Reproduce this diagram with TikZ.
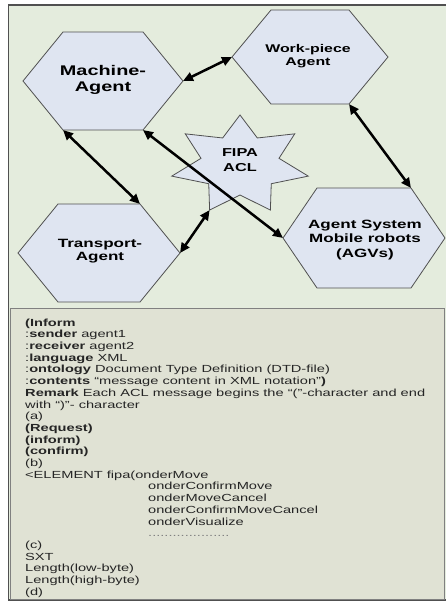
\documentclass[tikz,border=0pt]{standalone}
\usepackage{fontspec}
\setmainfont{Liberation Sans}[FakeStretch=1.42]
\usepackage{xcolor}
\usetikzlibrary{arrows.meta}
\definecolor{bggreen}{HTML}{E4ECDD}
\definecolor{boxgrey}{HTML}{E0E2D4}
\definecolor{hexfill}{HTML}{DFE5F1}
\definecolor{hexline}{HTML}{505050}
\definecolor{textgrey}{HTML}{252525}

% name, x, y, half width, half top, half height
\newcommand{\agenthex}[6]{%
	\draw[hexa] (#2-#4,#3) coordinate (#1-w) -- (#2-#5,#3-#6) coordinate (#1-nw)
		-- (#2+#5,#3-#6) coordinate (#1-ne) -- (#2+#4,#3) coordinate (#1-e)
		-- (#2+#5,#3+#6) coordinate (#1-se) -- (#2-#5,#3+#6) coordinate (#1-sw) -- cycle;}

\begin{document}
\begin{tikzpicture}[x=1pt,y=-1pt,
	hexa/.style={draw=hexline,fill=hexfill,line width=0.8pt},
	agent/.style={align=center,inner sep=0pt,text=black},
	link/.style={<->,>={Triangle[length=10pt,width=9pt]},line width=2.5pt}]
		\useasboundingbox (0,0) rectangle (446,605);
		\fill[white] (0,0) rectangle (446,605);
		\draw[fill=bggreen,draw=hexline,line width=1.2pt] (8.5,5) rectangle (447,600);
		\draw[fill=boxgrey,draw=gray,line width=1pt] (10,308) rectangle (444,599);

		\agenthex{mach}{103}{81}{80}{40}{49}
		\agenthex{work}{310}{57}{78}{39}{47}
		\agenthex{trans}{99}{253}{81}{41}{49}
		\agenthex{agv}{364}{238}{81}{47}{50}

		\def \cx {240};
		\def \cy {165};
		\draw[hexa] (\cx,\cy-50) coordinate (fipa-0)
			\foreach \i in {1,...,13}
			{
				-- ({\cx+(mod(\i,2)==0 ? 70 : 40)*cos(90+\i*180/7)},{\cy-(mod(\i,2)==0 ? 50 : 30)*sin(90+\i*180/7)}) coordinate (fipa-\i)
			} -- cycle;

		\node[agent,font=\fontsize{14}{16}\selectfont\bfseries] (machine) at (103,80) {Machine-\\Agent};
		\node[agent,font=\fontsize{11.2}{13}\selectfont\bfseries] (workpiece) at (308,56) {Work-piece\\Agent};
		\node[agent,font=\fontsize{12}{13.5}\selectfont\bfseries] (transport) at (100,251) {Transport-\\Agent};
		\node[agent,font=\fontsize{12}{14.5}\selectfont\bfseries] (agvs) at (365,240) {Agent System\\Mobile robots\\(AGVs)};
		\node[agent,font=\fontsize{11.5}{15}\selectfont\bfseries] (fipa) at (240,160.5) {FIPA\\ACL};

		\draw[link] (mach-e) -- (work-w);
		\draw[link] (mach-sw) -- (trans-ne);
		\draw[link] (mach-se) -- (agv-w);
		\draw[link] (work-se) -- (agv-ne);
		\draw[link] (trans-e) -- (fipa-6);

		\node[anchor=north west,align=left,inner sep=0pt,text=textgrey,font=\fontsize{10.3}{11.7}\selectfont] (msg) at (25,318.5)
		{\textbf{(Inform}\\
		:\textbf{sender} agent1\\
		:\textbf{receiver} agent2\\
		:\textbf{language} XML\\
		:\textbf{ontology} Document Type Definition (DTD-file)\\
		:\textbf{contents} “message content in XML notation”\textbf{)}\\
		\textbf{Remark} Each ACL message begins the “(”-character and end\\
		with “)”- character\\
		(a)\\
		\textbf{(Request)}\\
		\textbf{(inform)}\\
		\textbf{(confirm)}\\
		(b)\\
		<ELEMENT fipa(onderMove\\
		\hspace*{123pt}onderConfirmMove\\
		\hspace*{123pt}onderMoveCancel\\
		\hspace*{123pt}onderConfirmMoveCancel\\
		\hspace*{123pt}onderVisualize\\
		\hspace*{123pt}{\color{gray}....................}\\
		(c)\\
		SXT\\
		Length(low-byte)\\
		Length(high-byte)\\
		(d)};
	\end{tikzpicture}
\end{document}
